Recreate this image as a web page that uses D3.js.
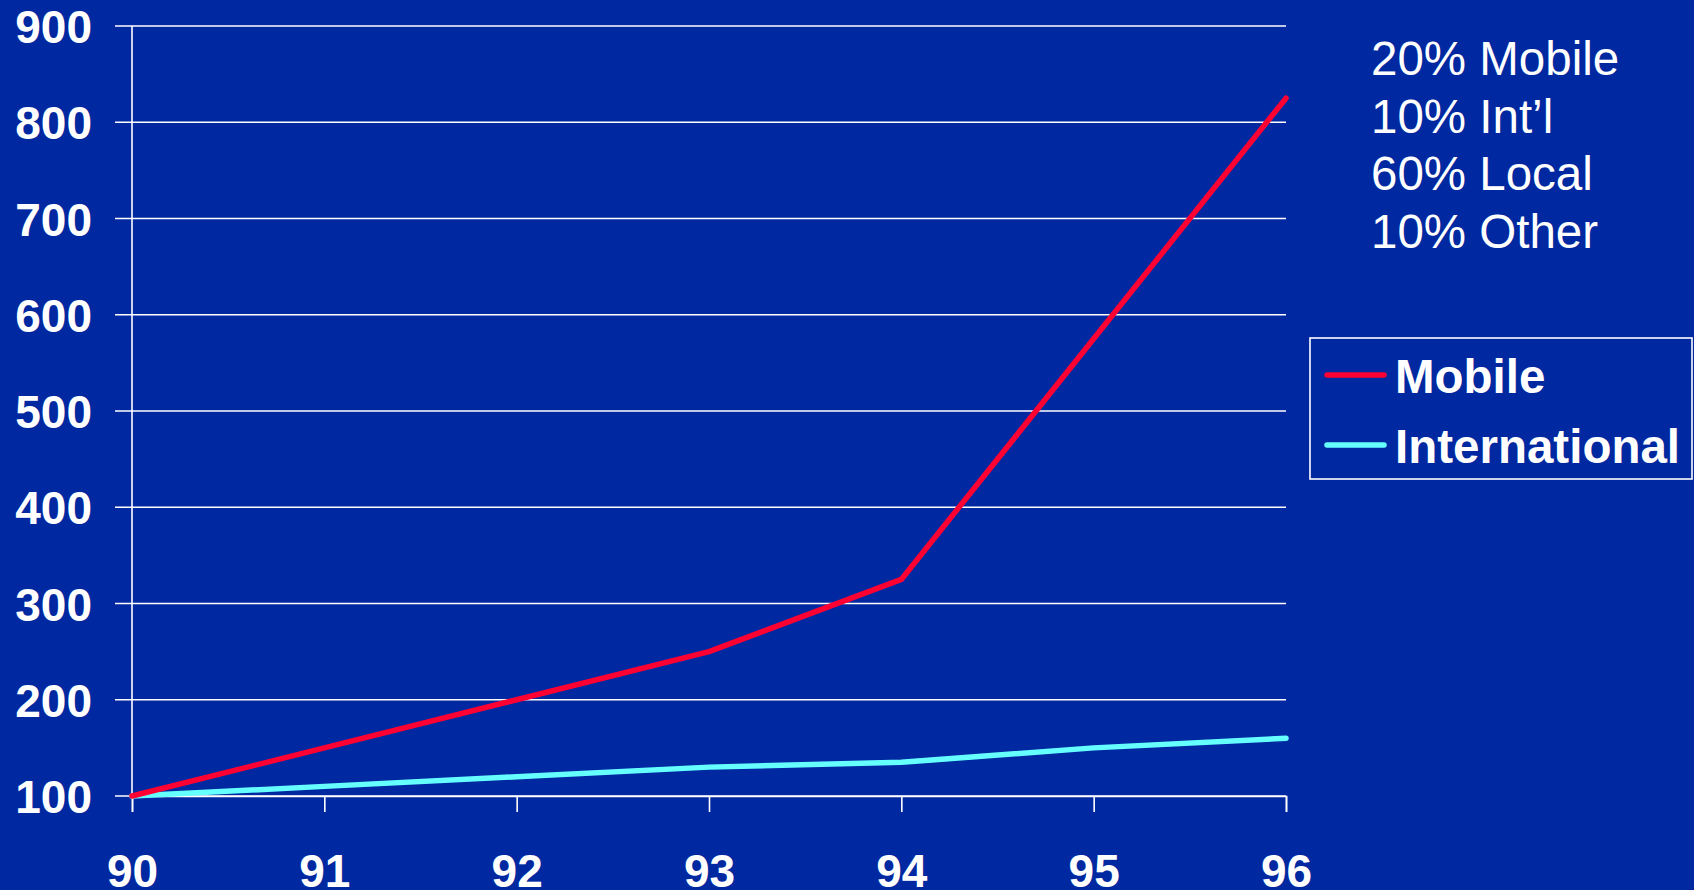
<!DOCTYPE html>
<html>
<head>
<meta charset="utf-8">
<script src="https://cdn.jsdelivr.net/npm/d3@7"></script>
<style>
  html, body { margin: 0; padding: 0; background: #0028a0; }
  svg { display: block; }
</style>
</head>
<body>
<svg id="chart" width="1694" height="890"></svg>
<script>
// Traffic growth index, 1990 = 100
const years = ["90", "91", "92", "93", "94", "95", "96"];
const mobile = [100, 150, 200, 250, 325, 575, 825];
const international = [100, 110, 120, 130, 135, 150, 160];
const yTicks = [100, 200, 300, 400, 500, 600, 700, 800, 900];
const mixLines = ["20% Mobile", "10% Int\u2019l", "60% Local", "10% Other"];
const legendNames = ["Mobile", "International"];

const colors = { Mobile: "#ff0033", International: "#66ffff" };
const bg = "#0028a0";

const svg = d3.select("#chart");
svg.append("rect").attr("width", 1694).attr("height", 890).attr("fill", bg);

const x = d3.scalePoint().domain(years).range([132, 1286]);
const y = d3.scaleLinear().domain([100, 900]).range([796, 26]);

const font = "'Liberation Sans', Arial, Helvetica, sans-serif";

// horizontal gridlines, each with a short stub left of the axis
svg.append("g").selectAll("line").data(yTicks).join("line")
  .attr("x1", 115).attr("x2", 1286)
  .attr("y1", d => y(d)).attr("y2", d => y(d))
  .attr("stroke", "#ffffff").attr("stroke-width", 1.6);

// y axis labels
const gyl = svg.append("g").attr("transform", "translate(132,0)")
  .call(d3.axisLeft(y).tickValues(yTicks).tickSize(0).tickPadding(40).tickFormat(d3.format("d")));
gyl.select(".domain").remove();
gyl.selectAll("text")
  .attr("fill", "#ffffff").attr("font-family", font).attr("font-weight", "bold")
  .attr("font-size", 46).attr("dy", "0.36em");

// vertical axis line
svg.append("line").attr("x1", 132).attr("x2", 132).attr("y1", 26).attr("y2", 796)
  .attr("stroke", "#ffffff").attr("stroke-width", 1.6);

// x axis
const gx = svg.append("g").attr("transform", "translate(0,796)")
  .call(d3.axisBottom(x).tickSize(16).tickPadding(42));
gx.select(".domain").attr("stroke", "#ffffff").attr("stroke-width", 1.6);
gx.selectAll(".tick line").attr("stroke", "#ffffff").attr("stroke-width", 1.6);
gx.selectAll("text")
  .attr("fill", "#ffffff").attr("font-family", font).attr("font-weight", "bold")
  .attr("font-size", 46);

// series lines
const line = d3.line().x((d, i) => x(years[i])).y(d => y(d));
const series = [
  { name: "International", values: international },
  { name: "Mobile", values: mobile }
];
svg.selectAll("path.series").data(series).join("path")
  .attr("class", "series")
  .attr("d", d => line(d.values))
  .attr("fill", "none")
  .attr("stroke", d => colors[d.name])
  .attr("stroke-width", 5.5)
  .attr("stroke-linejoin", "round")
  .attr("stroke-linecap", "round");

// traffic mix text block
svg.append("g").selectAll("text").data(mixLines).join("text")
  .attr("x", 1371)
  .attr("y", (d, i) => 75 + i * 57.7)
  .attr("fill", "#ffffff").attr("font-family", font)
  .attr("font-size", 47.5)
  .text(d => d);

// legend
const lg = svg.append("g");
lg.append("rect").attr("x", 1310).attr("y", 338).attr("width", 382).attr("height", 141)
  .attr("fill", "none").attr("stroke", "#ffffff").attr("stroke-width", 1.6);
const items = lg.selectAll("g.item").data(legendNames).join("g")
  .attr("class", "item")
  .attr("transform", (d, i) => `translate(0,${375 + i * 70})`);
items.append("line").attr("x1", 1327).attr("x2", 1384).attr("y1", 0).attr("y2", 0)
  .attr("stroke", d => colors[d]).attr("stroke-width", 5.5).attr("stroke-linecap", "round");
items.append("text").attr("x", 1395).attr("y", 18)
  .attr("fill", "#ffffff").attr("font-family", font).attr("font-weight", "bold")
  .attr("font-size", 47.5).text(d => d);
</script>
</body>
</html>
